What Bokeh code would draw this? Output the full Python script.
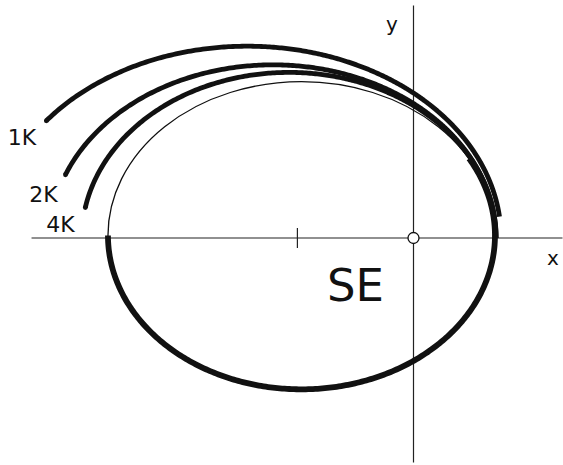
import numpy as np
from bokeh.plotting import figure
from bokeh.embed import file_html
from bokeh.resources import INLINE
from bokeh.core.properties import value

# Reference orbit: ellipse centre and semi-axes (unit = its semi-major axis)
ref_center_x = -0.579
ref_center_y = 0.013
ref_semi_major = 1.0
ref_semi_minor = 0.795

# Perturbed orbits, focal conics r = p / (1 + e cos(theta)), focus at the origin
labels = ["1K", "2K", "4K"]
semi_latus = [0.749, 0.695, 0.684]
eccentricity = [0.655, 0.630, 0.601]
theta_start = [162.3, 169.7, 174.7]   # degrees, free end of each arc
theta_stop = [14.0, 0.0, 0.0]         # degrees, where each arc runs into the orbit

# Marked centre of the reference ellipse on the x axis
centre_tick_x = -0.6

p = figure(width=563, height=465,
           x_range=(-2.1344, 0.7752), y_range=(-1.1757, 1.2274),
           x_axis_type=None, y_axis_type=None,
           output_backend="svg", toolbar_location=None, min_border=0)
p.grid.visible = False
p.outline_line_color = None
p.background_fill_color = "white"
p.border_fill_color = "white"

ink = "#111111"

# coordinate axes through the focus
p.segment(x0=[-1.974, 0.0], y0=[0.0, -1.160], x1=[0.77, 0.0], y1=[0.0, 1.2016],
          line_color="#222222", line_width=1.2)
# small tick at the ellipse centre
p.segment(x0=[centre_tick_x], y0=[-0.052], x1=[centre_tick_x], y1=[0.052],
          line_color="#222222", line_width=1.2)

# full reference orbit, thin
p.ellipse(x=[ref_center_x], y=[ref_center_y],
          width=[2 * ref_semi_major], height=[2 * ref_semi_minor],
          fill_color=None, line_color=ink, line_width=1.3)

# lower part of the reference orbit, heavy
t = np.radians(np.linspace(180.0, 390.0, 300))
p.line(ref_center_x + ref_semi_major * np.cos(t),
       ref_center_y + ref_semi_minor * np.sin(t),
       line_color=ink, line_width=5.8, line_join="round")

# perturbed arcs: rounded free end, squared end where they meet the orbit
for pl, ecc, th0, th1 in zip(semi_latus, eccentricity, theta_start, theta_stop):
    th = np.radians(np.linspace(th0, th1, 400))
    r = pl / (1.0 + ecc * np.cos(th))
    x, y = r * np.cos(th), r * np.sin(th)
    p.line(x, y, line_color=ink, line_width=4.8, line_cap="butt", line_join="round")
    p.scatter([x[0]], [y[0]], marker="circle", size=4.8,
              fill_color=ink, line_color=None)

# focus marker
p.scatter([0.0], [0.0], marker="circle", size=11,
          fill_color="white", line_color=ink, line_width=1.3)

font = value("DejaVu Sans")
p.text(x=[-2.0233, -1.912, -1.8243], y=[0.5194, 0.2248, 0.0672], text=labels,
       text_font=font, text_font_size="22px", text_color=ink,
       text_align="center", text_baseline="alphabetic")
p.text(x=[-0.2997], y=[-0.2455], text=["SE"],
       text_font=font, text_font_size="45px", text_color=ink,
       text_align="center", text_baseline="alphabetic")
p.text(x=[0.7209, -0.1111], y=[-0.1059, 1.1054], text=["x", "y"],
       text_font=font, text_font_size="20px", text_color=ink,
       text_align="center", text_baseline="alphabetic")

open("out.html", "w").write(file_html(p, INLINE))
